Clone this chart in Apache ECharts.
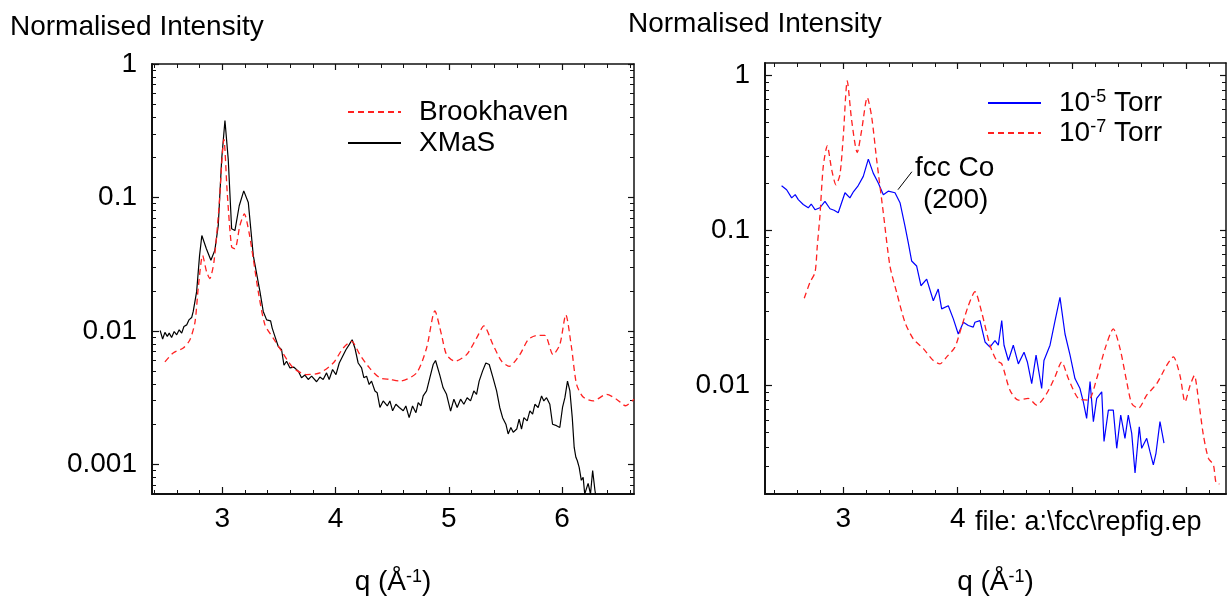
<!DOCTYPE html>
<html><head><meta charset="utf-8">
<script src="https://cdn.jsdelivr.net/npm/echarts@6/dist/echarts.min.js"></script>
<style>html,body{margin:0;padding:0;background:#fff}#c{width:1227px;height:601px}</style>
</head><body><div id="c"></div>
<script>
const FONT = '"Liberation Sans", Arial, Helvetica, sans-serif';

// ---------- Left panel data (q in 1/Å, normalised intensity) ----------
const xmasQ = [2.452,2.474,2.494,2.515,2.532,2.553,2.576,2.598,2.62,2.642,2.662,2.686,2.706,2.73,2.744,2.774,2.80,2.82,2.86,2.90,2.935,2.965,2.995,3.024,3.053,3.083,3.112,3.15,3.19,3.23,3.274,3.333,3.362,3.392,3.427,3.441,3.465,3.494,3.524,3.545,3.568,3.598,3.633,3.671,3.70,3.73,3.759,3.789,3.833,3.862,3.891,3.921,3.944,3.974,4.004,4.033,4.063,4.092,4.121,4.147,4.171,4.2,4.23,4.25,4.274,4.297,4.318,4.348,4.368,4.392,4.421,4.457,4.48,4.504,4.533,4.563,4.598,4.621,4.65,4.68,4.71,4.73,4.754,4.774,4.804,4.833,4.862,4.883,4.92,4.95,4.98,5.016,5.045,5.074,5.104,5.133,5.162,5.192,5.221,5.245,5.268,5.298,5.327,5.357,5.39,5.422,5.45,5.475,5.504,5.524,5.548,5.569,5.6,5.621,5.642,5.663,5.692,5.716,5.74,5.76,5.789,5.819,5.839,5.863,5.892,5.916,5.951,5.98,6.004,6.025,6.048,6.069,6.09,6.107,6.122,6.134,6.151,6.17,6.186,6.2,6.23,6.251,6.27,6.29,6.31];
const xmasI = [0.01007,0.00869,0.00975,0.0091,0.00963,0.00894,0.0099,0.00935,0.0102,0.00963,0.0108,0.0111,0.0121,0.0126,0.014,0.0197,0.0368,0.0519,0.0413,0.0339,0.0403,0.0617,0.193,0.377,0.193,0.0582,0.0565,0.0867,0.112,0.0918,0.0368,0.0197,0.014,0.0121,0.0119,0.0105,0.0091,0.00767,0.00723,0.00553,0.00593,0.00528,0.00535,0.005,0.00446,0.00467,0.00433,0.00458,0.00416,0.00451,0.00433,0.00485,0.00433,0.00514,0.00471,0.00575,0.00646,0.00723,0.00789,0.00859,0.00745,0.00575,0.00528,0.00446,0.00458,0.00397,0.00421,0.00355,0.00344,0.00267,0.00299,0.00274,0.00299,0.00252,0.00282,0.00267,0.00252,0.00274,0.00224,0.00274,0.00244,0.0029,0.00274,0.00326,0.00355,0.00446,0.0056,0.006,0.00468,0.00375,0.00335,0.00251,0.00308,0.00267,0.00308,0.00282,0.00316,0.00299,0.00355,0.00335,0.00421,0.005,0.00575,0.0056,0.00447,0.00355,0.00267,0.00224,0.002,0.00169,0.00189,0.00174,0.00184,0.00218,0.00184,0.00224,0.00212,0.00252,0.00238,0.00282,0.00267,0.00326,0.00299,0.00316,0.00282,0.002,0.00195,0.00189,0.00267,0.00316,0.00421,0.00355,0.00224,0.00134,0.00113,0.00107,0.00095,0.00076,0.0008,0.0006,0.00072,0.0006,0.0009,0.00064,0.0005];
const brookQ = [2.494,2.567,2.656,2.715,2.76,2.788,2.827,2.862,2.89,2.927,2.97,3.015,3.044,3.083,3.112,3.156,3.195,3.236,3.274,3.318,3.377,3.45,3.524,3.627,3.745,3.862,3.98,4.068,4.142,4.215,4.30,4.39,4.48,4.57,4.716,4.804,4.877,4.936,4.98,5.054,5.157,5.245,5.31,5.39,5.466,5.533,5.627,5.70,5.775,5.848,5.92,5.98,6.033,6.084,6.128,6.186,6.275,6.393,6.48,6.56,6.634];
const brookI = [0.00586,0.00684,0.00745,0.00859,0.0117,0.0209,0.0368,0.0277,0.0247,0.0329,0.082,0.272,0.109,0.0426,0.0413,0.0617,0.0752,0.055,0.0348,0.0197,0.0111,0.00883,0.00705,0.00528,0.00471,0.00485,0.00575,0.00745,0.00836,0.00664,0.00528,0.00446,0.00433,0.00421,0.00485,0.00745,0.0141,0.00935,0.00664,0.00593,0.00664,0.00883,0.0109,0.00789,0.00593,0.00543,0.00664,0.00859,0.00925,0.00925,0.00664,0.00789,0.0132,0.00745,0.00398,0.0032,0.00299,0.00335,0.00308,0.00275,0.00308];

// ---------- Right panel data ----------
const torr5Q = [2.461,2.505,2.549,2.58,2.607,2.65,2.694,2.72,2.753,2.796,2.84,2.884,2.92,2.956,3.015,3.058,3.09,3.126,3.175,3.219,3.262,3.306,3.35,3.393,3.452,3.496,3.539,3.568,3.598,3.641,3.679,3.729,3.787,3.83,3.86,3.918,3.962,4.005,4.05,4.093,4.136,4.151,4.195,4.239,4.282,4.326,4.355,4.385,4.405,4.443,4.486,4.53,4.58,4.609,4.647,4.685,4.734,4.754,4.807,4.851,4.894,4.938,4.982,5.025,5.069,5.098,5.127,5.157,5.186,5.215,5.259,5.279,5.317,5.36,5.39,5.425,5.462,5.491,5.521,5.55,5.587,5.608,5.652,5.68,5.71,5.733,5.768,5.803];
const torr5I = [0.194,0.183,0.162,0.17,0.158,0.147,0.14,0.148,0.136,0.14,0.154,0.138,0.135,0.13,0.175,0.162,0.178,0.192,0.223,0.288,0.234,0.202,0.17,0.179,0.175,0.151,0.107,0.0834,0.0635,0.059,0.044,0.0485,0.0352,0.0419,0.0312,0.0327,0.0269,0.0215,0.0256,0.0244,0.0238,0.0256,0.0262,0.0191,0.0177,0.0195,0.0182,0.0262,0.0182,0.0145,0.0182,0.0138,0.0164,0.0142,0.0103,0.0157,0.00957,0.0145,0.0182,0.0262,0.037,0.0215,0.0157,0.0111,0.00957,0.00785,0.00614,0.0106,0.00585,0.00826,0.00912,0.00436,0.00695,0.00695,0.00394,0.00646,0.00457,0.00646,0.00492,0.00273,0.00543,0.00394,0.00457,0.00376,0.00308,0.00366,0.00585,0.00425];
const torr7Q = [2.659,2.709,2.753,2.773,2.796,2.825,2.86,2.899,2.936,2.971,3.0,3.035,3.073,3.122,3.161,3.21,3.248,3.292,3.35,3.408,3.467,3.539,3.612,3.70,3.787,3.845,3.904,3.976,4.02,4.093,4.151,4.21,4.282,4.34,4.385,4.457,4.53,4.617,4.69,4.778,4.851,4.909,4.967,5.054,5.142,5.215,5.288,5.36,5.419,5.477,5.521,5.579,5.652,5.74,5.827,5.885,5.943,5.987,6.031,6.068,6.103,6.147,6.191,6.235,6.258,6.287];
const torr7I = [0.0365,0.0462,0.0536,0.0794,0.124,0.258,0.351,0.246,0.197,0.229,0.403,0.92,0.515,0.318,0.444,0.719,0.541,0.285,0.13,0.059,0.0398,0.0256,0.02,0.0173,0.0145,0.0138,0.0153,0.0177,0.0221,0.0327,0.0403,0.0296,0.0182,0.0145,0.0138,0.00933,0.00805,0.00826,0.00748,0.00889,0.0114,0.0142,0.0111,0.00826,0.00805,0.0111,0.0173,0.0232,0.0173,0.0106,0.00767,0.00713,0.00867,0.0103,0.0135,0.0153,0.0116,0.00785,0.01,0.0116,0.00826,0.00481,0.0034,0.00308,0.00236,0.00232];

// ---------- Axis ranges and tick labels ----------
const leftXRange = [2.38, 6.635];
const leftYRange = [0.0006, 1];
const rightXRange = [2.316, 6.345];
const rightYRange = [0.002, 1.2];
const leftXMajor = [3, 4, 5, 6];
const leftXLabels = [3, 4, 5, 6];
const rightXMajor = [3, 4, 5, 6];
const rightXLabels = [3, 4];
const leftYMajor = [0.001, 0.01, 0.1, 1];
const rightYMajor = [0.01, 0.1, 1];
const yLabelText = {'0.001': '0.001', '0.01': '0.01', '0.1': '0.1', '1': '1'};
const seriesNames = ['Brookhaven', 'XMaS', '10^-5 Torr', '10^-7 Torr'];

function zip(qs, is) { const n = Math.min(qs.length, is.length); const out = []; for (let i = 0; i < n; i++) out.push([qs[i], is[i]]); return out; }
function minorX(range) { const v = []; for (let k = Math.ceil(range[0] * 5); k <= Math.floor(range[1] * 5); k++) { if (k % 5 !== 0) v.push(+(k / 5).toFixed(2)); } return v; }
function minorLog(range) { const v = []; for (let e = -4; e <= 0; e++) { for (let m = 2; m <= 9; m++) { const val = +(m * Math.pow(10, e)).toPrecision(3); if (val >= range[0] - 1e-12 && val <= range[1] + 1e-12) v.push(val); } } return v; }

const AX = '#111';
const FS = 28;
const TXT = {color: '#000', fontSize: FS, fontFamily: FONT};
const SUP = {fontSize: 18, fontFamily: FONT, color: '#000', verticalAlign: 'top', padding: [0, 0, 7, 0]};
const NAMESTYLE = {color: '#000', fontSize: FS, fontFamily: FONT, rich: {sup: SUP}};

function xAxes(g, range, major, labels) {
  const base = {type: 'value', gridIndex: g, min: range[0], max: range[1], splitLine: {show: false}, axisPointer: {show: false}};
  const minor = minorX(range);
  return [
    Object.assign({}, base, {position: 'bottom', axisLine: {show: true, onZero: false, lineStyle: {color: AX, width: 2}},
      axisTick: {show: true, inside: true, length: 7, customValues: major, lineStyle: {color: AX, width: 1.2}},
      axisLabel: Object.assign({show: true, customValues: labels, margin: 11}, TXT),
      name: 'q (Å{sup|-1})', nameLocation: 'middle', nameGap: 74, nameTextStyle: NAMESTYLE}),
    Object.assign({}, base, {position: 'bottom', axisLine: {show: false, onZero: false},
      axisTick: {show: true, inside: true, length: 4, customValues: minor, lineStyle: {color: AX, width: 1}}, axisLabel: {show: false}}),
    Object.assign({}, base, {position: 'top', axisLine: {show: true, onZero: false, lineStyle: {color: AX, width: 1.5}},
      axisTick: {show: true, inside: true, length: 6, customValues: major, lineStyle: {color: AX, width: 1.2}}, axisLabel: {show: false}}),
    Object.assign({}, base, {position: 'top', axisLine: {show: false, onZero: false},
      axisTick: {show: true, inside: true, length: 4, customValues: minor, lineStyle: {color: AX, width: 1}}, axisLabel: {show: false}})
  ];
}
function yAxes(g, range, major) {
  const base = {type: 'log', logBase: 10, gridIndex: g, min: range[0], max: range[1], splitLine: {show: false}, axisPointer: {show: false}};
  const minor = minorLog(range);
  return [
    Object.assign({}, base, {position: 'left', axisLine: {show: true, onZero: false, lineStyle: {color: AX, width: 2}},
      axisTick: {show: true, inside: true, length: 7, customValues: major, lineStyle: {color: AX, width: 1.2}},
      axisLabel: Object.assign({show: true, customValues: major, margin: 15,
        formatter: v => yLabelText[String(+(+v).toPrecision(3))] || String(v)}, TXT)}),
    Object.assign({}, base, {position: 'left', axisLine: {show: false, onZero: false},
      axisTick: {show: true, inside: true, length: 4, customValues: minor, lineStyle: {color: AX, width: 1}}, axisLabel: {show: false}}),
    Object.assign({}, base, {position: 'right', axisLine: {show: true, onZero: false, lineStyle: {color: AX, width: 1.5}},
      axisTick: {show: true, inside: true, length: 6, customValues: major, lineStyle: {color: AX, width: 1.2}}, axisLabel: {show: false}}),
    Object.assign({}, base, {position: 'right', axisLine: {show: false, onZero: false},
      axisTick: {show: true, inside: true, length: 4, customValues: minor, lineStyle: {color: AX, width: 1}}, axisLabel: {show: false}})
  ];
}

const chart = echarts.init(document.getElementById('c'), null, {renderer: 'canvas'});
const legendText = Object.assign({}, TXT, {lineHeight: 30, padding: [0, 0, 0, 13], rich: {sup: SUP}});

chart.setOption({
  animation: false,
  backgroundColor: '#fff',
  grid: [
    {left: 152, top: 64, width: 482, height: 433},
    {left: 765, top: 63, width: 461, height: 434}
  ],
  xAxis: xAxes(0, leftXRange, leftXMajor, leftXLabels).concat(xAxes(1, rightXRange, rightXMajor, rightXLabels)),
  yAxis: yAxes(0, leftYRange, leftYMajor).concat(yAxes(1, rightYRange, rightYMajor)),
  legend: [
    {data: [seriesNames[0], seriesNames[1]], left: 347, top: 97, padding: 0, orient: 'vertical', itemWidth: 53, itemHeight: 10, itemGap: 1,
      selectedMode: false, textStyle: legendText, itemStyle: {opacity: 0}},
    {data: [seriesNames[2], seriesNames[3]], left: 987, top: 88, padding: 0, orient: 'vertical', itemWidth: 53, itemHeight: 10, itemGap: 0,
      selectedMode: false, textStyle: legendText, itemStyle: {opacity: 0},
      formatter: n => n.replace(/\^(-\d+)/, '{sup|$1}')}
  ],
  series: [
    {name: seriesNames[0], type: 'line', xAxisIndex: 0, yAxisIndex: 0, data: zip(brookQ, brookI), symbol: 'none', smooth: 0.25,
      lineStyle: {color: '#ff2020', width: 1.3, type: [6, 4]}, itemStyle: {color: '#ff2020'}, z: 3},
    {name: seriesNames[1], type: 'line', xAxisIndex: 0, yAxisIndex: 0, data: zip(xmasQ, xmasI), symbol: 'none',
      lineStyle: {color: '#000', width: 1.2}, itemStyle: {color: '#000'}, z: 2},
    {name: seriesNames[2], type: 'line', xAxisIndex: 4, yAxisIndex: 4, data: zip(torr5Q, torr5I), symbol: 'none',
      lineStyle: {color: '#0000ff', width: 1.2}, itemStyle: {color: '#0000ff'}, z: 2,
      markLine: {silent: true, symbol: 'none', label: {show: false}, lineStyle: {color: '#000', width: 1, type: 'solid'},
        data: [[{coord: [3.478, 0.183]}, {coord: [3.60, 0.239]}]]}},
    {name: seriesNames[3], type: 'line', xAxisIndex: 4, yAxisIndex: 4, data: zip(torr7Q, torr7I), symbol: 'none', smooth: 0.25,
      lineStyle: {color: '#ff2020', width: 1.3, type: [6, 4]}, itemStyle: {color: '#ff2020'}, z: 3}
  ],
  graphic: [
    {type: 'text', left: 10, top: 13, style: {text: 'Normalised Intensity', fill: '#000', fontSize: FS, fontFamily: FONT}},
    {type: 'text', left: 628, top: 10, style: {text: 'Normalised Intensity', fill: '#000', fontSize: FS, fontFamily: FONT}},
    {type: 'text', left: 915, top: 154, style: {text: 'fcc Co', fill: '#000', fontSize: FS, fontFamily: FONT}},
    {type: 'text', left: 923, top: 186, style: {text: '(200)', fill: '#000', fontSize: FS, fontFamily: FONT}},
    {type: 'text', left: 975, top: 509, style: {text: 'file: a:\\fcc\\repfig.ep', fill: '#000', fontSize: 27, fontFamily: FONT}}
  ]
});
</script></body></html>
